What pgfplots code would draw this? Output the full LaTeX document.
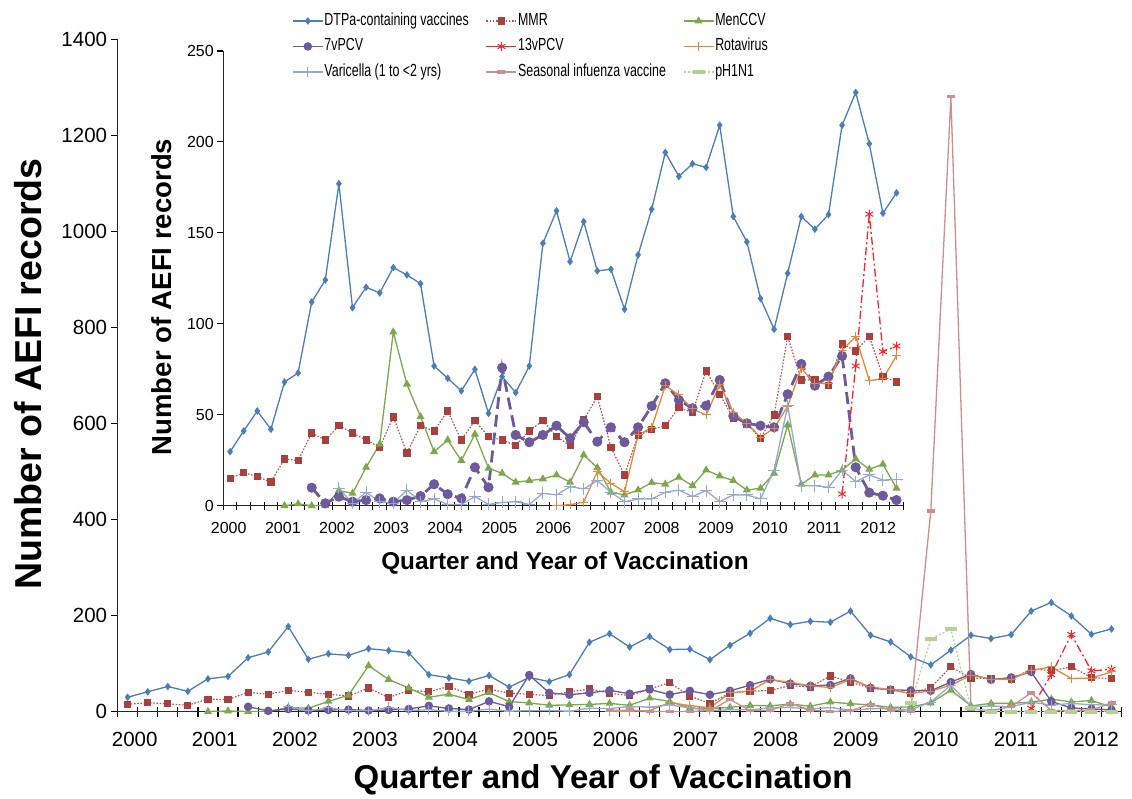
\documentclass[border=0pt]{standalone}
\usepackage{pgfplots}
\pgfplotsset{compat=1.18}
\usepackage{pgfplotstable}
\usepackage{fontspec}
\setmainfont{Liberation Sans}
\newfontfamily\narrowfont[FakeStretch=0.71]{Liberation Sans}

\definecolor{cDTP}{HTML}{4A7EBB}
\definecolor{cMMR}{HTML}{A8413D}
\definecolor{cMMRl}{HTML}{C0504D}
\definecolor{cMen}{HTML}{7BA84A}
\definecolor{cPCV}{HTML}{6C5A9C}
\definecolor{cRed}{HTML}{FF2222}
\definecolor{cRota}{HTML}{E8873A}
\definecolor{cVar}{HTML}{93A9D2}
\definecolor{cFlu}{HTML}{CC8E8E}
\definecolor{cH1}{HTML}{B3D394}

\pgfplotstableread{
i dtp mmr men pcv7 pcv13 rota vari flu h1
0 29.7 14.9 nan nan nan nan nan nan nan
1 41.1 18.2 nan nan nan nan nan nan nan
2 52.1 16.0 nan nan nan nan nan nan nan
3 42.0 13.0 nan nan nan nan nan nan nan
4 68.0 25.7 0 nan nan nan nan nan nan
5 73.0 24.8 1 nan nan nan nan nan nan
6 112.0 40.0 0 9.9 nan nan nan nan nan
7 124.1 36.1 0 1.3 nan nan nan nan nan
8 177.0 44.0 8.3 5.0 nan nan 9.6 nan nan
9 108.9 40.0 6.8 2.2 nan nan 1.3 nan nan
10 120.1 36.1 21.1 3.1 nan nan 7.4 nan nan
11 117.0 32.1 33.8 4.0 nan nan 2.2 nan nan
12 130.9 48.8 95.5 2.2 nan nan 1.3 nan nan
13 126.9 29.0 66.8 3.1 nan nan 8.6 nan nan
14 122.1 44.0 49.0 5.3 nan nan 2.2 nan nan
15 76.8 41.1 29.7 11.8 nan nan 3.7 nan nan
16 70.1 52.1 36.1 6.3 nan nan 0.7 nan nan
17 63.1 36.1 24.8 4.0 nan nan 0.7 nan nan
18 75.0 46.8 39.3 21.1 nan nan 5.0 nan nan
19 50.8 38.0 20.6 10.1 nan nan 0.7 nan nan
20 71.0 36.1 17.8 75.9 nan nan 1.8 nan nan
21 62.2 33.0 12.9 38.9 nan nan 2.2 nan nan
22 76.8 41.1 13.8 34.9 nan nan 0.7 nan nan
23 144.3 46.8 14.7 38.9 nan nan 6.8 nan nan
24 162.1 38.0 16.9 44.0 nan 0 5.9 2 nan
25 134.2 33.0 12.9 37.1 nan 0.5 10.5 3 nan
26 156.2 47.1 27.9 45.9 nan 2 9.2 0 nan
27 129.1 60.0 20.9 35.2 nan 18.7 13.8 0 nan
28 130.0 32.1 7.4 43.1 nan 12.3 7.4 0 nan
29 108.0 16.9 5.9 34.9 nan 7.7 2.2 2 nan
30 137.9 38.5 8.6 43.1 nan 38.9 3.7 25 nan
31 163.0 42.0 12.7 54.8 nan 42.9 3.7 2 nan
32 194.2 44.0 11.8 67.3 nan 66.0 7.4 2 nan
33 181.0 53.9 15.6 58.1 nan 60.9 8.6 17 nan
34 188.0 51.2 11.0 53.6 nan 53.2 5.0 3 nan
35 186.0 74.1 19.6 55.0 nan 49.9 8.3 0 nan
36 209.2 61.3 16.3 69.1 nan 66.4 2.2 2 nan
37 159.0 48.1 13.8 49.3 nan 51.2 5.9 15 nan
38 145.0 44.9 8.6 45.3 nan 45.3 5.9 3 nan
39 113.9 37.1 9.6 44.0 nan 37.6 3.7 0 18
40 97.0 49.9 17.8 43.1 nan 42.6 19.6 418 150.5
41 127.8 93.0 44.4 61.3 nan 54.8 55.0 1281 172
42 159.0 69.1 11.8 77.9 nan 75.6 11.0 5 6.7
43 152.0 69.1 16.9 66.0 nan 67.3 11.0 2 0
44 160.1 66.0 16.9 71.0 nan 67.3 10.1 10 0
45 209.2 88.9 19.6 82.3 6.4 85.6 19.6 39 0
46 227.2 85.1 25.7 21.1 76.8 93.0 13.2 2 0
47 199.0 93.0 20.0 7.2 160.3 68.8 16.9 2 0
48 160.8 71.0 22.8 5.5 84.7 69.7 14.1 3 0
49 172.0 68.0 9.6 3.1 87.8 82.5 14.5 18 0
}\data

\pgfplotsset{
 sdtp/.style={color=cDTP, line width=1.3pt, mark=diamond*, mark size=2.8pt, mark options={solid, fill=cDTP}},
 smmr/.style={color=cMMRl, line width=1.2pt, dash pattern=on 1.6pt off 1.6pt, mark=square*, mark size=3pt, mark options={solid, draw=cMMR, fill=cMMR}},
 smen/.style={color=cMen, line width=1.3pt, mark=triangle*, mark size=3.4pt, mark options={solid, fill=cMen}},
 spcv/.style={color=cPCV, line width=1.3pt, mark=*, mark size=3.6pt, mark options={solid, fill=cPCV}},
 spcvb/.style={color=cRed, line width=1.3pt, dash pattern=on 8pt off 3pt on 2pt off 3pt, mark=asterisk, mark size=4.5pt, mark options={solid, line width=1pt}},
 srota/.style={color=cRota, line width=1.3pt, mark=+, mark size=4.5pt, mark options={solid, line width=1pt}},
 svar/.style={color=cVar, line width=1.3pt, mark=+, mark size=5pt, mark options={solid, line width=1pt}},
 sflu/.style={color=cFlu, line width=1.3pt, mark=-, mark size=4pt, mark options={solid, line width=3.5pt}},
 sh1/.style={color=cH1, line width=1.3pt, dash pattern=on 2pt off 2pt, mark=-, mark size=6pt, mark options={solid, line width=4pt}},
}

\begin{document}
\begin{tikzpicture}[x=1pt,y=1pt]
\useasboundingbox (0,0) rectangle (1132,798);

\begin{axis}[
  at={(117.6pt,86.5pt)}, anchor=south west,
  scale only axis, width=1004pt, height=672pt,
  xmin=-0.5, xmax=49.5, ymin=0, ymax=1400,
  axis x line=bottom, axis y line=left,
  axis line style={-, line width=1.4pt, black!85},
  xtick={0.35,4.34,8.33,12.32,16.31,20.3,24.29,28.28,32.27,36.26,40.25,44.24,48.23},
  xticklabels={2000,2001,2002,2003,2004,2005,2006,2007,2008,2009,2010,2011,2012},
  major x tick style={draw=none},
  minor xtick={-0.5,0.5,...,49.5},
  xtick align=center, minor tick length=10pt,
  ytick={0,200,...,1400}, ytick align=outside, major tick length=7pt,
  tick style={black, line width=1.2pt},
  /pgf/number format/assume math mode=true, /pgf/number format/1000 sep={},
  xticklabel style={font=\fontsize{20.5}{24}\selectfont, anchor=base, yshift=-31pt},
  yticklabel style={font=\fontsize{20.5}{24}\selectfont},
  xlabel={Quarter and Year of Vaccination},
  ylabel={Number of AEFI records},
  xlabel style={at={(axis description cs:0.4835,-0.102)}, anchor=center, font=\bfseries\fontsize{33}{40}\selectfont},
  ylabel style={at={(axis description cs:-0.0892,0.502)}, anchor=center, rotate=0, font=\bfseries\fontsize{37.5}{44}\selectfont},
  legend columns=3,
  legend cell align=left,
  legend image code/.code={\draw[mark repeat=2,mark phase=2] plot coordinates {(0pt,0pt) (15pt,0pt) (30pt,0pt)};},
  legend style={at={(0.1737,1.0409)}, anchor=north west, draw=none, fill=none, inner sep=0pt,
    font=\narrowfont\fontsize{17.5}{20}\selectfont, row sep=8pt,
    nodes={inner sep=1pt, text height=12pt, text depth=3.5pt},
    /tikz/every even column/.append style={column sep=16pt}},
]
\addplot[sdtp] table[x=i,y=dtp] {\data};
\addlegendentry{DTPa-containing vaccines}
\addplot[smmr] table[x=i,y=mmr] {\data};
\addlegendentry{MMR}
\addplot[smen] table[x=i,y=men] {\data};
\addlegendentry{MenCCV}
\addplot[spcv] table[x=i,y=pcv7] {\data};
\addlegendentry{7vPCV}
\addplot[spcvb, legend image post style={solid}] table[x=i,y=pcv13] {\data};
\addlegendentry{13vPCV}
\addplot[srota] table[x=i,y=rota] {\data};
\addlegendentry{Rotavirus}
\addplot[svar] table[x=i,y=vari] {\data};
\addlegendentry{Varicella (1 to <2 yrs)}
\addplot[sflu] table[x=i,y=flu] {\data};
\addlegendentry{Seasonal infuenza vaccine}
\addplot[sh1] table[x=i,y=h1] {\data};
\addlegendentry{pH1N1}
\end{axis}

\begin{axis}[
  at={(223.3pt,292.3pt)}, anchor=south west,
  scale only axis, width=680pt, height=454.7pt,
  xmin=-0.5, xmax=49.5, ymin=0, ymax=250,
  axis x line=bottom, axis y line=left,
  axis line style={-, line width=1.3pt, black!85},
  xtick={-0.1,3.88,7.86,11.84,15.82,19.8,23.78,27.76,31.74,35.72,39.7,43.68,47.66},
  xticklabels={2000,2001,2002,2003,2004,2005,2006,2007,2008,2009,2010,2011,2012},
  major x tick style={draw=none},
  minor xtick={-0.5,0.5,...,49.5},
  xtick align=center, minor tick length=8pt,
  ytick={0,50,...,250}, ytick align=outside, major tick length=6pt,
  tick style={black, line width=1.1pt},
  /pgf/number format/assume math mode=true,
  xticklabel style={font=\fontsize{16}{19}\selectfont, anchor=base, yshift=-25pt},
  yticklabel style={font=\fontsize{16}{19}\selectfont},
  xlabel={Quarter and Year of Vaccination},
  ylabel={Number of AEFI records},
  xlabel style={at={(axis description cs:0.5025,-0.126)}, anchor=center, font=\bfseries\fontsize{24.3}{29}\selectfont},
  ylabel style={at={(axis description cs:-0.0901,0.459)}, anchor=center, rotate=0, font=\bfseries\fontsize{27.5}{33}\selectfont},
]
\addplot[sdtp] table[x=i,y=dtp] {\data};
\addplot[smmr] table[x=i,y=mmr] {\data};
\addplot[smen] table[x=i,y=men] {\data};
\addplot[spcv, line width=2.8pt, dash pattern=on 12pt off 6pt] table[x=i,y=pcv7] {\data};
\addplot[spcvb] table[x=i,y=pcv13] {\data};
\addplot[srota] table[x=i,y=rota] {\data};
\addplot[svar, mark size=6pt] table[x=i,y=vari] {\data};
\end{axis}
\end{tikzpicture}
\end{document}
